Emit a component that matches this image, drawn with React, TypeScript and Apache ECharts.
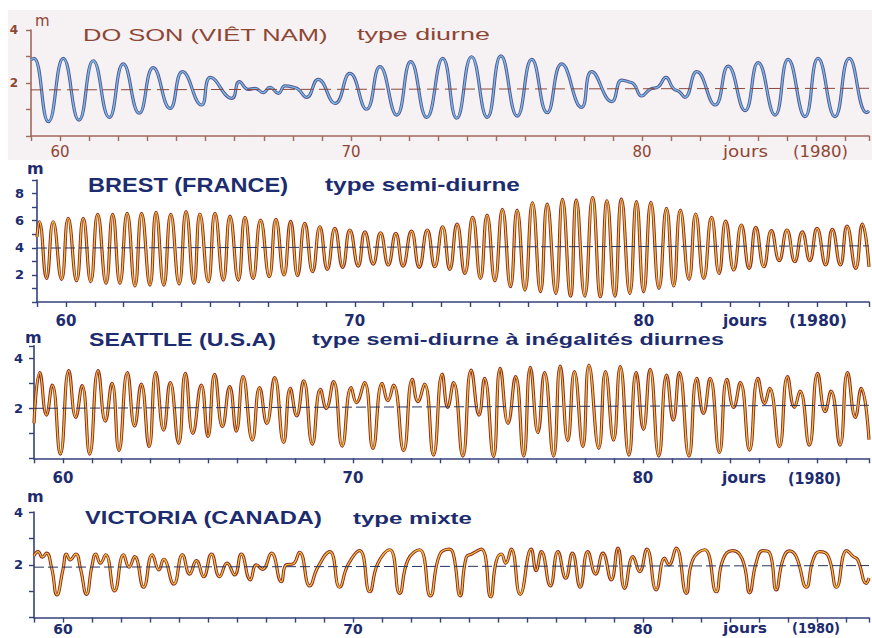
import React, { useEffect, useRef } from 'react';
import * as echarts from 'echarts';

// ---- data (day of year 1980, water level in m) ----
const doSonTide: [number, number][] = [
  [59.0, 2.88], [59.1, 2.93], [59.6, 0.54], [60.11, 2.93], [60.65, 0.6], [61.14, 2.84], [61.69, 0.7],
  [62.17, 2.72], [62.72, 0.86], [63.2, 2.58], [63.78, 1.04], [64.21, 2.43], [64.86, 1.17], [65.17, 2.21],
  [65.9, 1.42], [66.16, 2.05], [66.47, 1.76], [66.7, 1.8], [66.98, 1.64], [67.21, 1.84], [67.5, 1.61],
  [67.73, 1.89], [68.02, 1.84], [68.19, 1.76], [68.47, 1.46], [68.87, 2.14], [69.45, 1.23], [69.96, 2.36],
  [70.53, 1.01], [70.99, 2.62], [71.57, 0.79], [72.05, 2.81], [72.6, 0.7], [73.15, 2.93], [73.63, 0.67],
  [74.14, 2.99], [74.68, 0.7], [75.15, 3.02], [75.71, 0.75], [76.21, 2.89], [76.74, 0.88], [77.24, 2.72],
  [77.92, 1.08], [78.27, 2.43], [78.96, 1.3], [79.3, 2.11], [79.53, 2.05], [79.72, 1.96], [79.99, 1.51],
  [80.27, 1.76], [80.56, 1.86], [80.82, 2.21], [81.07, 1.8], [81.28, 1.67], [81.47, 1.46], [81.88, 2.43],
  [82.51, 1.17], [82.96, 2.64], [83.54, 0.96], [83.99, 2.77], [84.57, 0.79], [85.02, 2.89], [85.6, 0.73],
  [86.05, 2.93], [86.63, 0.73], [87.12, 2.93], [87.72, 0.88], [87.8, 0.95],
];

const brestTide: [number, number][] = [
  [59.0, 4.8], [59.08, 5.92], [59.33, 1.74], [59.56, 5.92], [59.85, 1.67], [60.08, 6.17], [60.37, 1.57],
  [60.6, 6.17], [60.86, 1.5], [61.1, 6.46], [61.39, 1.38], [61.62, 6.46], [61.87, 1.38], [62.12, 6.54],
  [62.39, 1.18], [62.62, 6.54], [62.91, 1.25], [63.12, 6.61], [63.39, 1.25], [63.63, 6.46], [63.92, 1.33],
  [64.16, 6.66], [64.43, 1.38], [64.64, 6.49], [64.93, 1.5], [65.16, 6.54], [65.45, 1.62], [65.68, 6.34],
  [65.97, 1.62], [66.2, 6.24], [66.48, 1.74], [66.74, 6.04], [67.04, 1.87], [67.27, 6.09], [67.55, 1.99],
  [67.78, 5.95], [68.02, 1.95], [68.27, 5.8], [68.54, 2.24], [68.79, 5.55], [69.05, 2.41], [69.31, 5.43],
  [69.58, 2.56], [69.83, 5.31], [70.12, 2.65], [70.35, 5.18], [70.64, 2.8], [70.89, 5.11], [71.16, 2.73],
  [71.42, 5.06], [71.67, 2.65], [71.96, 5.23], [72.23, 2.56], [72.51, 5.31], [72.77, 2.6], [73.04, 5.55],
  [73.29, 2.41], [73.54, 5.75], [73.81, 2.11], [74.08, 6.24], [74.35, 1.74], [74.58, 6.41], [74.85, 1.57],
  [75.11, 6.83], [75.39, 1.13], [75.62, 6.78], [75.89, 0.88], [76.15, 7.32], [76.43, 0.76], [76.66, 7.22],
  [76.96, 0.64], [77.19, 7.57], [77.47, 0.44], [77.67, 7.52], [77.96, 0.44], [78.23, 7.71], [78.5, 0.39],
  [78.73, 7.47], [79.0, 0.44], [79.23, 7.59], [79.52, 0.64], [79.75, 7.4], [80.0, 0.76], [80.25, 7.35],
  [80.53, 1.01], [80.79, 6.9], [81.04, 1.18], [81.27, 6.78], [81.57, 1.67], [81.8, 6.49], [82.08, 1.74],
  [82.35, 6.24], [82.61, 2.11], [82.84, 5.97], [83.12, 2.36], [83.38, 5.68], [83.65, 2.48], [83.88, 5.5],
  [84.16, 2.6], [84.42, 5.26], [84.69, 3.05], [84.96, 5.31], [85.23, 2.97], [85.49, 5.18], [85.75, 3.05],
  [86.0, 5.43], [86.3, 2.73], [86.53, 5.36], [86.81, 2.73], [87.04, 5.6], [87.34, 2.48], [87.57, 5.75],
  [87.8, 2.6],
];

const seattleTide: [number, number][] = [
  [59.0, 1.4], [59.2, 3.43], [59.43, 1.73], [59.63, 2.93], [59.91, 0.17], [60.2, 3.51], [60.44, 1.64],
  [60.66, 2.91], [60.92, 0.17], [61.21, 3.51], [61.46, 1.49], [61.69, 3.0], [61.93, 0.31], [62.22, 3.43],
  [62.47, 1.29], [62.7, 2.97], [62.97, 0.47], [63.2, 3.43], [63.47, 1.13], [63.7, 3.03], [63.99, 0.6],
  [64.22, 3.4], [64.48, 1.0], [64.77, 2.93], [65.0, 0.87], [65.23, 3.36], [65.5, 1.27], [65.75, 2.87],
  [65.98, 1.09], [66.21, 3.27], [66.53, 0.73], [66.78, 2.83], [67.03, 1.4], [67.3, 3.23], [67.61, 0.64],
  [67.84, 2.8], [68.06, 1.7], [68.3, 3.1], [68.6, 0.57], [68.88, 2.76], [69.08, 2.0], [69.33, 3.07],
  [69.63, 0.49], [69.94, 2.83], [70.12, 2.23], [70.4, 3.03], [70.69, 0.4], [71.01, 3.0], [71.21, 2.31],
  [71.4, 2.93], [71.75, 0.31], [72.05, 3.16], [72.24, 2.27], [72.47, 2.97], [72.78, 0.13], [73.08, 3.37],
  [73.27, 2.04], [73.47, 3.03], [73.79, 0.09], [74.08, 3.53], [74.35, 1.73], [74.54, 3.2], [74.85, 0.07],
  [75.08, 3.6], [75.35, 1.4], [75.61, 3.27], [75.89, 0.09], [76.12, 3.64], [76.38, 1.03], [76.61, 3.43],
  [76.92, 0.09], [77.15, 3.69], [77.41, 0.71], [77.64, 3.47], [77.93, 0.47], [78.14, 3.73], [78.48, 0.4],
  [78.71, 3.47], [78.99, 0.73], [79.22, 3.67], [79.52, 0.13], [79.77, 3.43], [80.02, 1.16], [80.25, 3.56],
  [80.55, 0.09], [80.82, 3.33], [81.05, 1.53], [81.26, 3.43], [81.59, 0.09], [81.86, 3.2], [82.09, 1.8],
  [82.32, 3.2], [82.64, 0.23], [82.9, 3.16], [83.13, 2.04], [83.36, 3.03], [83.68, 0.33], [83.97, 3.2],
  [84.2, 2.2], [84.37, 2.8], [84.71, 0.47], [84.99, 3.27], [85.23, 2.04], [85.42, 2.69], [85.74, 0.53],
  [86.03, 3.4], [86.29, 1.87], [86.49, 2.69], [86.8, 0.53], [87.06, 3.43], [87.33, 1.64], [87.53, 2.8],
  [87.8, 0.75],
];

const victoriaTide: [number, number][] = [
  [59.0, 2.34], [59.14, 2.5], [59.29, 2.29], [59.43, 2.44], [59.61, 1.87], [59.79, 0.86], [60.0, 1.83],
  [60.12, 2.41], [60.25, 2.19], [60.44, 2.41], [60.6, 1.87], [60.81, 0.88], [61.0, 1.96], [61.13, 2.41],
  [61.29, 2.06], [61.47, 2.38], [61.78, 1.01], [62.09, 2.38], [62.28, 1.91], [62.47, 2.31], [62.78, 1.15],
  [63.08, 2.38], [63.31, 1.81], [63.47, 2.21], [63.82, 1.27], [64.12, 2.38], [64.37, 1.65], [64.6, 2.16],
  [64.85, 1.55], [65.12, 2.41], [65.4, 1.55], [65.66, 2.06], [65.92, 1.62], [66.15, 2.41], [66.46, 1.43],
  [66.67, 2.0], [66.88, 1.83], [67.19, 2.44], [67.53, 1.36], [67.7, 2.0], [67.93, 2.03], [68.16, 2.47],
  [68.51, 1.2], [68.79, 1.91], [69.2, 2.5], [69.54, 1.15], [69.83, 2.0], [70.23, 2.54], [70.58, 0.98],
  [70.86, 2.06], [71.27, 2.57], [71.61, 0.92], [71.9, 2.19], [72.3, 2.57], [72.67, 0.82], [72.99, 2.38],
  [73.33, 2.59], [73.47, 2.38], [73.7, 0.82], [73.91, 2.29], [74.1, 2.41], [74.43, 2.59], [74.75, 0.79],
  [74.94, 2.12], [75.12, 2.41], [75.27, 2.06], [75.46, 2.59], [75.77, 0.88], [76.15, 2.59], [76.32, 1.78],
  [76.5, 2.5], [76.81, 1.2], [77.07, 2.5], [77.34, 1.49], [77.57, 2.44], [77.84, 1.15], [78.1, 2.5],
  [78.37, 1.65], [78.62, 2.44], [78.91, 1.43], [79.14, 2.63], [79.37, 1.11], [79.66, 2.31], [79.89, 1.74],
  [80.14, 2.59], [80.46, 1.05], [80.75, 2.25], [80.9, 2.0], [81.15, 2.63], [81.5, 0.92], [81.72, 2.19],
  [82.13, 2.57], [82.53, 0.98], [82.76, 2.19], [83.1, 2.54], [83.33, 2.41], [83.51, 1.93], [83.68, 0.94],
  [83.91, 2.09], [84.14, 2.54], [84.37, 2.46], [84.6, 1.05], [84.83, 2.19], [85.06, 2.53], [85.29, 2.31],
  [85.64, 1.15], [85.87, 2.19], [86.1, 2.5], [86.39, 2.34], [86.68, 1.15], [87.03, 2.54], [87.26, 2.31],
  [87.41, 2.19], [87.71, 1.3], [87.8, 1.5],
];

// mean levels (dashed lines)
const doSonMean: [number, number][] = [[59, 1.74], [87.8, 1.8]];
const brestMean: [number, number][] = [[59, 3.98], [87.8, 4.14]];
const seattleMean: [number, number][] = [[59, 2.0], [87.8, 2.12]];
const victoriaMean: [number, number][] = [[59, 1.91], [87.8, 1.97]];

const dayMin = 59;
const dayMax = 87.8;
const dayLabels = [60, 70, 80];
const levelMax = [4, 9, 4.5, 4];
const stationNames = ['DO SON (VIÊT NAM)', 'BREST (FRANCE)', 'SEATTLE (U.S.A)', 'VICTORIA (CANADA)'];
const tideTypes = ['type diurne', 'type semi-diurne', 'type semi-diurne à inégalités diurnes', 'type mixte'];
const unitLabel = 'm';
const daysLabel = 'jours';
const yearLabel = '(1980)';

const tides = [doSonTide, brestTide, seattleTide, victoriaTide];
const means = [doSonMean, brestMean, seattleMean, victoriaMean];

// ---- layout / style ----
const BROWN = '#8e4634';
const NAVY = '#1d2c6e';
const DEJAVU = '"DejaVu Sans", "Liberation Sans", Arial, sans-serif';
const LIB = '"Liberation Sans", Arial, sans-serif';

const panels = [
  {
    grid: { left: 31, top: 30, width: 838, height: 106 },
    axisColor: '#a06a5c', textColor: BROWN, labelWeight: 'normal', labelSize: 15, yLabelSize: 12,
    yMargin: 13, xMargin: 8, outline: '#5a5590', core: '#74bde9', meanColor: '#8a4a3c', dash: [12, 6],
    title: { x: 83, base: 41, w: 245, size: 17, weight: 'normal' },
    type: { x: 357, base: 40.5, w: 133, size: 17, weight: 'normal' },
    m: { x: 35, y: 21, size: 15, weight: 'normal' },
    jours: { x: 723, w: 45, x2: 793, w2: 55, y: 152, size: 15, weight: 'normal' },
  },
  {
    grid: { left: 37, top: 180, width: 832, height: 122 },
    axisColor: '#34427a', textColor: NAVY, labelWeight: 'bold', labelSize: 15, yLabelSize: 13,
    yMargin: 13, xMargin: 11, outline: '#8e2a2a', core: '#f2c232', meanColor: '#25335e', dash: [10, 4],
    title: { x: 88, base: 192, w: 200, size: 21, weight: 'bold' },
    type: { x: 325, base: 191, w: 195, size: 18, weight: 'bold' },
    m: { x: 27, y: 168, size: 16, weight: 'bold' },
    jours: { x: 723, w: 44, x2: 789, w2: 58, y: 321, size: 15, weight: 'bold' },
  },
  {
    grid: { left: 34, top: 345.8, width: 835, height: 112.5 },
    axisColor: '#34427a', textColor: NAVY, labelWeight: 'bold', labelSize: 15, yLabelSize: 13,
    yMargin: 11, xMargin: 12, outline: '#8e2a2a', core: '#f2c232', meanColor: '#25335e', dash: [10, 4],
    title: { x: 89, base: 346, w: 187, size: 18, weight: 'bold' },
    type: { x: 312, base: 345, w: 412, size: 17, weight: 'bold' },
    m: { x: 25, y: 337, size: 16, weight: 'bold' },
    jours: { x: 722, w: 44, x2: 788, w2: 53, y: 478, size: 15, weight: 'bold' },
  },
  {
    grid: { left: 34, top: 512, width: 835, height: 105.6 },
    axisColor: '#34427a', textColor: NAVY, labelWeight: 'bold', labelSize: 14, yLabelSize: 13,
    yMargin: 11, xMargin: 4, outline: '#8e2a2a', core: '#f2c232', meanColor: '#25335e', dash: [10, 4],
    title: { x: 85, base: 524, w: 238, size: 18, weight: 'bold' },
    type: { x: 353, base: 524, w: 119, size: 17, weight: 'bold' },
    m: { x: 27, y: 496, size: 16, weight: 'bold' },
    jours: { x: 723, w: 44, x2: 792, w2: 48, y: 628, size: 14, weight: 'bold' },
  },
];

export default function App() {
  const ref = useRef<HTMLDivElement>(null);

  useEffect(() => {
    if (!ref.current) return;
    const chart = echarts.init(ref.current, null, { renderer: 'svg' });

    const ctx = document.createElement('canvas').getContext('2d');
    const measure = (text: string, font: string) => {
      if (!ctx) return 0;
      ctx.font = font;
      return ctx.measureText(text).width;
    };
    const fitText = (
      text: string, x: number, midY: number, width: number, size: number,
      weight: string, family: string, fill: string,
    ) => {
      const font = `${weight} ${size}px ${family}`;
      const w = measure(text, font);
      return {
        type: 'text', x, y: midY, scaleX: w > 0 ? width / w : 1, silent: true, z: 10,
        style: {
          text, font, fill,
          textAlign: 'left', textVerticalAlign: 'middle', align: 'left', verticalAlign: 'middle',
        },
      };
    };
    const plainText = (text: string, x: number, midY: number, size: number, weight: string, family: string, fill: string) => ({
      type: 'text', x, y: midY, silent: true, z: 10,
      style: {
        text, font: `${weight} ${size}px ${family}`, fill,
        textAlign: 'left', textVerticalAlign: 'middle', align: 'left', verticalAlign: 'middle',
      },
    });

    const graphic: any[] = [
      { type: 'rect', shape: { x: 8, y: 10, width: 864, height: 150 }, style: { fill: '#f6f1f3' }, z: -10, silent: true },
    ];
    panels.forEach((p, i) => {
      graphic.push(fitText(stationNames[i], p.title.x, p.title.base - p.title.size * 0.35, p.title.w, p.title.size, p.title.weight, LIB, p.textColor));
      graphic.push(fitText(tideTypes[i], p.type.x, p.type.base - p.type.size * 0.35, p.type.w, p.type.size, p.type.weight, LIB, p.textColor));
      graphic.push(plainText(unitLabel, p.m.x, p.m.y, p.m.size, p.m.weight, DEJAVU, p.textColor));
      graphic.push(fitText(daysLabel, p.jours.x, p.jours.y, p.jours.w, p.jours.size, p.jours.weight, DEJAVU, p.textColor));
      graphic.push(fitText(yearLabel, p.jours.x2, p.jours.y, p.jours.w2, p.jours.size, p.jours.weight, DEJAVU, p.textColor));
    });

    const grid = panels.map((p) => ({ ...p.grid, containLabel: false }));
    const xAxis = panels.map((p, i) => ({
      type: 'value', gridIndex: i, min: dayMin, max: dayMax, interval: 1,
      axisLine: { show: true, onZero: false, lineStyle: { color: p.axisColor, width: 1.6 } },
      axisTick: { show: true, length: 5, lineStyle: { color: p.axisColor, width: 1.4 } },
      splitLine: { show: false },
      axisLabel: {
        show: true, margin: p.xMargin, fontSize: p.labelSize, fontWeight: p.labelWeight,
        fontFamily: DEJAVU, color: p.textColor, showMaxLabel: true, showMinLabel: true,
        formatter: (v: number) => {
          const r = Math.round(v);
          return Math.abs(r - v) < 1e-6 && dayLabels.includes(r) ? String(r) : '';
        },
      },
    }));
    const yAxis = panels.map((p, i) => ({
      type: 'value', gridIndex: i, min: 0, max: levelMax[i], interval: 1,
      axisLine: { show: true, onZero: false, lineStyle: { color: p.axisColor, width: 1.6 } },
      axisTick: { show: true, length: 5, lineStyle: { color: p.axisColor, width: 1.4 } },
      splitLine: { show: false },
      axisLabel: {
        show: true, margin: p.yMargin, fontSize: p.yLabelSize, fontWeight: 'bold',
        fontFamily: DEJAVU, color: p.textColor,
        formatter: (v: number) => {
          const r = Math.round(v);
          return Math.abs(r - v) < 1e-6 && r > 0 && r % 2 === 0 ? String(r) : '';
        },
      },
    }));

    const series: any[] = [];
    panels.forEach((p, i) => {
      series.push({
        type: 'line', xAxisIndex: i, yAxisIndex: i, data: tides[i], smooth: 0.5,
        symbol: 'none', showSymbol: false, silent: true, z: 3,
        lineStyle: { color: p.outline, width: 3.2 },
      });
      series.push({
        type: 'line', xAxisIndex: i, yAxisIndex: i, data: tides[i], smooth: 0.5,
        symbol: 'none', showSymbol: false, silent: true, z: 4,
        lineStyle: { color: p.core, width: 1.3 },
      });
      series.push({
        type: 'line', xAxisIndex: i, yAxisIndex: i, data: means[i],
        symbol: 'none', showSymbol: false, silent: true, z: 5,
        lineStyle: { color: p.meanColor, width: 1, type: p.dash },
      });
    });

    chart.setOption({
      animation: false,
      backgroundColor: '#ffffff',
      grid, xAxis, yAxis, series, graphic,
    });

    return () => chart.dispose();
  }, []);

  return <div ref={ref} style={{ position: 'absolute', left: 0, top: 0, width: 872, height: 638 }} />;
}
